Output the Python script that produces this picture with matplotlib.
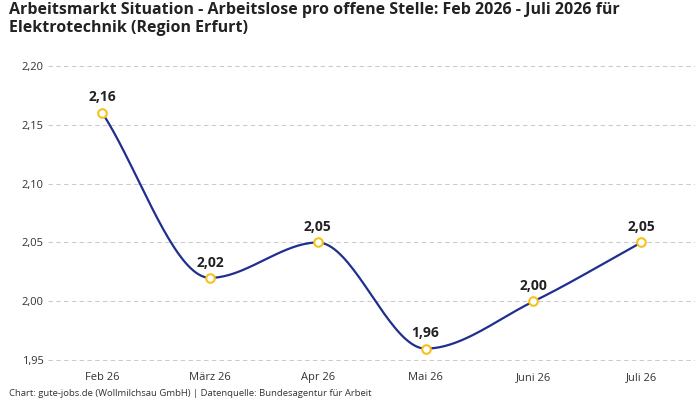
import matplotlib
matplotlib.use("Agg")
import matplotlib.pyplot as plt
import numpy as np

plt.rcParams['font.family'] = ['Open Sans', 'DejaVu Sans']

months = ['Feb 26', 'März 26', 'Apr 26', 'Mai 26', 'Juni 26', 'Juli 26']
values = [2.16, 2.02, 2.05, 1.96, 2.00, 2.05]
yticks = [1.95, 2.00, 2.05, 2.10, 2.15, 2.20]


def monotone_curve(x, y, n=40):
    # Fritsch-Carlson monotone cubic, only for drawing the smooth line
    x = np.asarray(x, float)
    y = np.asarray(y, float)
    h = np.diff(x)
    d = np.diff(y) / h
    m = np.zeros_like(y)
    m[0], m[-1] = d[0], d[-1]
    for i in range(1, len(y) - 1):
        if d[i - 1] * d[i] <= 0:
            m[i] = 0
        else:
            m[i] = 2 / (1 / d[i - 1] + 1 / d[i])
    xs, ys = [], []
    for i in range(len(h)):
        t = np.linspace(0, 1, n)
        h00 = 2 * t**3 - 3 * t**2 + 1
        h10 = t**3 - 2 * t**2 + t
        h01 = -2 * t**3 + 3 * t**2
        h11 = t**3 - t**2
        xs.append(x[i] + t * h[i])
        ys.append(h00 * y[i] + h10 * h[i] * m[i] + h01 * y[i + 1] + h11 * h[i] * m[i + 1])
    return np.concatenate(xs), np.concatenate(ys)


fig = plt.figure(figsize=(7, 4), dpi=100)
ax = fig.add_axes([0.069, 0.0975, 0.924, 0.74])

x = np.arange(len(months))
cx, cy = monotone_curve(x, values)
ax.plot(cx, cy, color='#1f2f8f', linewidth=1.6, zorder=3)
ax.scatter(x, values, s=38, facecolor='white', edgecolor='#f5c21b', linewidth=1.5, zorder=4, clip_on=False)
for xi, v in zip(x, values):
    ax.annotate(f"{v:.2f}".replace('.', ','), (xi, v), xytext=(0, 6), textcoords='offset points',
                ha='center', va='bottom', fontsize=10, fontweight='bold', color='#222222')

ax.set_xlim(-0.5, len(months) - 0.5)
ax.set_ylim(1.9495, 2.2005)
ax.set_yticks(yticks)
ax.set_yticklabels([f"{t:.2f}".replace('.', ',') for t in yticks])
ax.set_xticks(x)
ax.set_xticklabels(months)
ax.tick_params(axis='both', length=0, labelsize=8, colors='#333333')
ax.tick_params(axis='x', pad=8)
ax.grid(axis='y', linestyle=(0, (4, 3)), color='#cccccc', linewidth=0.8)
for s in ax.spines.values():
    s.set_visible(False)

fig.text(0.013, 0.995, "Arbeitsmarkt Situation - Arbeitslose pro offene Stelle: Feb 2026 - Juli 2026 für\nElektrotechnik (Region Erfurt)",
         ha='left', va='top', fontsize=11.5, fontweight='bold', color='#222222', linespacing=1.15)
fig.text(0.013, 0.004, "Chart: gute-jobs.de (Wollmilchsau GmbH) | Datenquelle: Bundesagentur für Arbeit",
         ha='left', va='bottom', fontsize=6.8, color='#333333')

fig.savefig('out.png', dpi=100)
